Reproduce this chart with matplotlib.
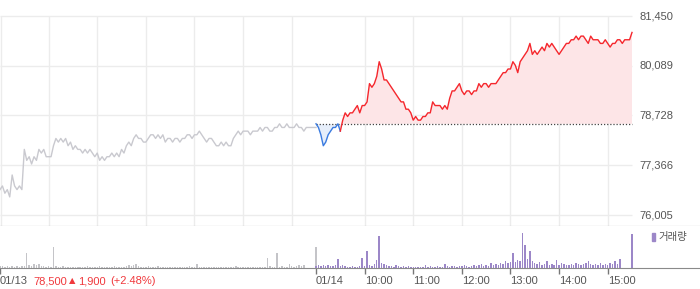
import numpy as np
import matplotlib
matplotlib.use("Agg")
import matplotlib.pyplot as plt
from matplotlib.patches import Rectangle

plt.rcParams['font.family'] = ['Liberation Sans', 'DejaVu Sans']

# 3-minute samples, 09:00 -> 15:30
prev_price = [
    76700, 76800, 76600, 76700, 76500, 77100, 76800, 76700, 76800, 76700,
    77800, 77500, 77600, 77400, 77600, 77500, 77800, 77700, 77800, 77600,
    77600, 77600, 77900, 78100, 78000, 78100, 78000, 78100, 77900, 78000,
    77800, 77900, 77800, 77800, 77700, 77800, 77700, 77800, 77700, 77600,
    77700, 77500, 77600, 77500, 77600, 77600, 77700, 77600, 77700, 77600,
    77800, 77700, 77900, 78000, 77900, 78100, 78200, 78100, 78100, 78000,
    78000, 78100, 78200, 78200, 78100, 78200, 78100, 78200, 78000, 78100,
    78100, 78000, 78100, 78100, 78000, 78100, 78100, 78200, 78200, 78100,
    78200, 78200, 78300, 78200, 78100, 78000, 78100, 78100, 78000, 77900,
    77900, 78000, 77900, 78000, 77900, 77900, 78100, 78200, 78300, 78200,
    78300, 78300, 78300, 78200, 78300, 78300, 78300, 78400, 78300, 78400,
    78400, 78300, 78300, 78400, 78400, 78500, 78400, 78400, 78500, 78400,
    78400, 78400, 78500, 78400, 78400, 78300, 78400, 78400, 78400, 78400,
    78400,
]
today_price = [
    78500, 78400, 78200, 77900, 78000, 78200, 78300, 78400, 78400, 78500,
    78300, 78600, 78800, 78700, 78800, 78800, 78900, 79000, 78800, 79000,
    79000, 79100, 79600, 79500, 79600, 79800, 80200, 80000, 79700, 79700,
    79600, 79500, 79400, 79300, 79200, 79100, 79100, 78900, 78900, 78800,
    78600, 78700, 78600, 78600, 78700, 78700, 78800, 78800, 79100, 79000,
    79000, 79000, 78900, 79000, 78900, 79200, 79400, 79400, 79500, 79600,
    79400, 79300, 79400, 79400, 79300, 79400, 79400, 79600, 79500, 79600,
    79600, 79500, 79600, 79600, 79600, 79700, 79800, 79900, 79900, 80000,
    80000, 80200, 80100, 79900, 80200, 80300, 80400, 80500, 80700, 80400,
    80500, 80400, 80500, 80600, 80500, 80700, 80600, 80700, 80600, 80500,
    80400, 80500, 80600, 80700, 80700, 80800, 80800, 80900, 80800, 80900,
    80900, 80800, 80700, 80900, 80800, 80800, 80800, 80700, 80700, 80800,
    80700, 80600, 80700, 80700, 80800, 80800, 80700, 80800, 80800, 80800,
    81000,
]
prev_vol = [
    2, 2, 1, 2, 1, 2, 1, 2, 1, 2,
    2, 15, 3, 2, 4, 3, 4, 2, 2, 1,
    2, 1, 21, 2, 1, 1, 2, 1, 1, 1,
    1, 1, 1, 1, 1, 1, 2, 1, 1, 1,
    1, 2, 1, 1, 1, 1, 1, 2, 1, 1,
    1, 1, 2, 3, 2, 3, 4, 2, 1, 1,
    1, 2, 1, 1, 1, 2, 1, 1, 1, 1,
    1, 1, 1, 1, 1, 1, 1, 1, 2, 1,
    1, 4, 1, 1, 1, 1, 1, 1, 1, 1,
    1, 1, 1, 1, 1, 1, 1, 2, 1, 1,
    1, 1, 1, 1, 1, 1, 1, 1, 1, 1,
    10, 2, 1, 1, 15, 1, 2, 1, 1, 4,
    2, 1, 2, 3, 2, 3, 0, 0, 0, 0,
    21,
]
today_vol = [
    2, 3, 2, 3, 2, 3, 2, 2, 3, 9,
    2, 3, 2, 1, 1, 2, 1, 1, 2, 10,
    2, 17, 3, 2, 4, 8, 32, 5, 4, 3,
    2, 2, 1, 3, 2, 1, 2, 1, 2, 1,
    1, 1, 1, 1, 1, 3, 1, 2, 1, 1,
    2, 1, 1, 4, 2, 1, 2, 2, 1, 2,
    2, 3, 2, 1, 2, 3, 2, 3, 4, 2,
    3, 2, 5, 3, 4, 3, 5, 4, 7, 5,
    6, 15, 6, 8, 7, 35, 23, 9, 17, 7,
    5, 4, 6, 3, 4, 7, 3, 4, 3, 8,
    3, 5, 4, 3, 3, 4, 3, 5, 4, 3,
    4, 5, 7, 4, 3, 4, 3, 5, 3, 4,
    3, 5, 4, 7, 4, 9, 0, 0, 0, 0,
    34,
]
prev_close = 78500
ytick_vals = [81450, 80089, 78728, 77366, 76005]
ytick_labels = ['81,450', '80,089', '78,728', '77,366', '76,005']
xtick_labels = ['01/13', '01/14', '10:00', '11:00', '12:00', '13:00', '14:00', '15:00']

prev_price = np.array(prev_price)
today_price = np.array(today_price)
x_prev = np.arange(len(prev_price)) * 3
x_today = 390 + np.arange(len(today_price)) * 3

W, H = 700, 289
fig = plt.figure(figsize=(7, 2.89), dpi=100)
ax = fig.add_axes([0, 1 - 226 / H, 1, 226 / H])
vax = fig.add_axes([0, 1 - 268 / H, 1, 42 / H])

xmax = W * 390 / 316
for a in (ax, vax):
    a.set_xlim(0, xmax)
    for s in ('top', 'left', 'right'):
        a.spines[s].set_visible(False)
    a.spines['bottom'].set_color('#8a8a8a')
    a.set_yticks([])

px = 5445 / 199
ax.set_ylim(81450 - 210 * px, 81450 + 16 * px)
ax.set_xticks([])

grid = '#ececec'
ax.hlines(ytick_vals, 0, 780, color=grid, lw=1, zorder=0)
vx = [1] + list(range(60, 391, 60)) + list(range(450, 751, 60))
ax.vlines(vx, ax.get_ylim()[0], 81450, color=grid, lw=1, zorder=0)

# previous day
ax.plot(x_prev, prev_price, color='#c9c9cf', lw=1)

# today
ax.fill_between(x_today, today_price, prev_close, where=today_price >= prev_close,
                interpolate=True, color='#fde5e7', lw=0)
ax.fill_between(x_today, today_price, prev_close, where=today_price <= prev_close,
                interpolate=True, color='#e6eefa', lw=0)
ax.hlines(prev_close, 390, 780, color='#444444', lw=0.9, linestyles=(0, (1, 1.5)))
k = np.where(today_price < prev_close)[0].max()
ax.plot(x_today[:k + 1], today_price[:k + 1], color='#3a7be0', lw=1)
ax.plot(x_today[k:], today_price[k:], color='#f5272d', lw=1)

for v, lab in zip(ytick_vals, ytick_labels):
    ax.text(639 * 390 / 316, v, lab, ha='left', va='center', fontsize=8, color='#555555')

# volume
vax.set_ylim(0, 42)
vax.bar(x_prev, prev_vol, width=1.8, color='#c4c4c8', lw=0)
vax.bar(x_today, today_vol, width=1.8, color='#9c87c8', lw=0)
vax.set_xticks([0, 390, 450, 510, 570, 630, 690, 750])
vax.set_xticklabels(xtick_labels, ha='left', fontsize=8, color='#555555')
vax.tick_params(axis='x', length=4, width=1, color='#777777', pad=2)

fig.add_artist(Rectangle((652 / W, 1 - 241 / H), 3 / W, 8 / H, color='#9c87c8',
                         transform=fig.transFigure))
fig.text(658 / W, 1 - 237 / H, '거래량', family=['Noto Sans CJK KR', 'DejaVu Sans'],
         fontsize=7.5, color='#555555', va='center', ha='left')

red = '#f0383c'
ty = 1 - 281 / H
fig.text(33 / W, ty, '78,500', fontsize=8, color=red, va='center')
fig.text(69 / W, ty, '▲', family=['DejaVu Sans'], fontsize=6, color=red, va='center')
fig.text(78 / W, ty, '1,900', fontsize=8, color=red, va='center')
fig.text(110 / W, ty, '(+2.48%)', fontsize=8, color=red, va='center')

fig.savefig('out.png', dpi=100)
